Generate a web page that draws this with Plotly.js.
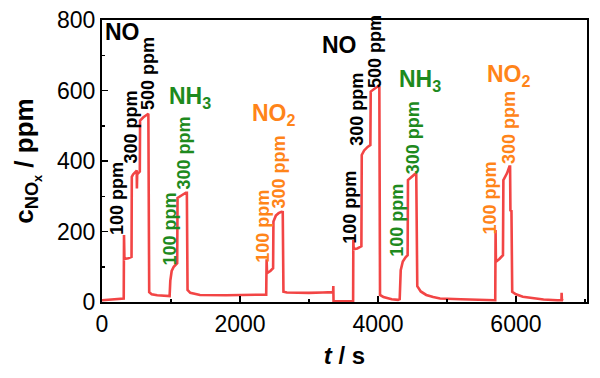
<!DOCTYPE html>
<html>
<head>
<meta charset="utf-8">
<script src="https://cdn.plot.ly/plotly-3.0.1.min.js"></script>
<style>
  html, body { margin: 0; padding: 0; background: #fff; }
  #chart { width: 600px; height: 378px; }
</style>
</head>
<body>
<div id="chart"></div>
<script>
// Data: time (s) and NOx concentration (ppm)
let time = [0, 100, 200, 300, 315, 319, 325, 380, 428, 432, 450, 500, 503, 506, 510, 548, 552, 600, 650, 672, 684,
  720, 800, 900, 980, 990, 1010, 1040, 1070, 1090, 1095, 1130, 1180, 1215, 1230, 1240, 1280, 1350, 1420,
  1800, 2000, 2200, 2380, 2386, 2392, 2440, 2480, 2485, 2520, 2560, 2600, 2620, 2630, 2680, 2800, 3000, 3200,
  3350, 3353, 3356, 3500, 3640, 3643, 3648, 3700, 3760, 3765, 3800, 3850, 3890, 3895, 3950, 4000, 4020, 4030,
  4080, 4200, 4290, 4315, 4330, 4360, 4400, 4430, 4435, 4480, 4530, 4555, 4570, 4620, 4700, 4800, 4900, 5200,
  5500, 5700, 5705, 5710, 5760, 5812, 5818, 5870, 5905, 5915, 5920, 5935, 5946, 6000, 6100, 6250, 6400, 6600,
  6660, 6662, 6666, 6686];
let conc = [5, 6, 7, 9, 10, 190, 122, 124, 128, 355, 362, 372, 374, 322, 362, 370, 515, 524, 530, 534, 28,
  22, 19, 17, 17, 60, 88, 100, 106, 110, 295, 300, 306, 310, 310, 34, 26, 22, 20,
  19, 19, 20, 21, 121, 82, 88, 96, 228, 245, 252, 256, 255, 29, 27, 26, 26, 27,
  28, 45, 3, 2, 3, 176, 150, 152, 158, 417, 430, 440, 445, 597, 605, 612, 610, 20,
  14, 8, 6, 8, 90, 115, 127, 133, 346, 355, 362, 365, 45, 30, 20, 14, 10, 8,
  6, 5, 204, 114, 122, 133, 346, 365, 384, 384, 260, 258, 29, 22, 15, 10, 7, 5,
  5, 26, 6, 5];

// Labels: [text, t, c, colour]
let doseLabels = [
  ["100 ppm", 217, 295, "black"], ["300 ppm", 420, 498, "black"], ["500 ppm", 667, 647, "black"],
  ["100 ppm", 993, 207, "green"], ["300 ppm", 1188, 424, "green"],
  ["100 ppm", 2333, 216, "orange"], ["300 ppm", 2565, 370, "orange"],
  ["100 ppm", 3594, 270, "black"], ["300 ppm", 3696, 548, "black"], ["500 ppm", 3957, 712, "black"],
  ["100 ppm", 4275, 233, "green"], ["300 ppm", 4507, 467, "green"],
  ["100 ppm", 5623, 296, "orange"], ["300 ppm", 5891, 495, "orange"]
];
let gasLabels = [
  ["NO", 304, 767, "black"], ["NH<sub>3</sub>", 1275, 580, "green"], ["NO<sub>2</sub>", 2493, 532, "orange"],
  ["NO", 3449, 728, "black"], ["NH<sub>3</sub>", 4609, 628, "green"], ["NO<sub>2</sub>", 5899, 643, "orange"]
];

let colours = { black: "#000000", green: "#1e8a1e", orange: "#ff8419" };
let font = "Liberation Sans, Arial, sans-serif";

function createChart() {
  let trace = {
    x: time,
    y: conc,
    type: "scatter",
    mode: "lines",
    line: { color: "#f24545", width: 2.6 },
    hoverinfo: "skip"
  };

  let annotations = [];
  doseLabels.forEach(function (d) {
    annotations.push({
      text: "<b>" + d[0] + "</b>", x: d[1], y: d[2], xref: "x", yref: "y",
      textangle: -90, showarrow: false, xanchor: "center", yanchor: "middle",
      font: { family: font, size: 18, color: colours[d[3]] }
    });
  });
  gasLabels.forEach(function (g) {
    annotations.push({
      text: "<b>" + g[0] + "</b>", x: g[1], y: g[2], xref: "x", yref: "y",
      showarrow: false, xanchor: "center", yanchor: "middle",
      font: { family: font, size: 23, color: colours[g[3]] }
    });
  });

  let layout = {
    width: 600,
    height: 378,
    margin: { l: 102, r: 13, t: 20, b: 76 },
    paper_bgcolor: "#fff",
    plot_bgcolor: "#fff",
    showlegend: false,
    font: { family: font, size: 23, color: "#000" },
    xaxis: {
      range: [0, 7030],
      tickvals: [0, 2000, 4000, 6000],
      ticks: "inside", ticklen: 6, tickwidth: 1.5, tickcolor: "#000",
      minor: { dtick: 1000, ticks: "inside", ticklen: 3, tickwidth: 1.5, tickcolor: "#000" },
      showgrid: false, zeroline: false,
      showline: true, linecolor: "#000", linewidth: 2, mirror: true,
      tickfont: { size: 23 },
      title: { text: "<b><i>t</i> / s</b>", font: { size: 24 }, standoff: 12 }
    },
    yaxis: {
      range: [0, 800],
      tickvals: [0, 200, 400, 600, 800],
      ticks: "inside", ticklen: 6, tickwidth: 1.5, tickcolor: "#000",
      minor: { dtick: 100, ticks: "inside", ticklen: 3, tickwidth: 1.5, tickcolor: "#000" },
      showgrid: false, zeroline: false,
      showline: true, linecolor: "#000", linewidth: 2, mirror: true,
      tickfont: { size: 23 },
      title: { text: "<b>c<sub>NO<sub>x</sub></sub> / ppm</b>", font: { size: 26 }, standoff: 16 }
    },
    annotations: annotations
  };

  Plotly.newPlot("chart", [trace], layout, { displayModeBar: false, staticPlot: true });
}

createChart();
</script>
</body>
</html>
